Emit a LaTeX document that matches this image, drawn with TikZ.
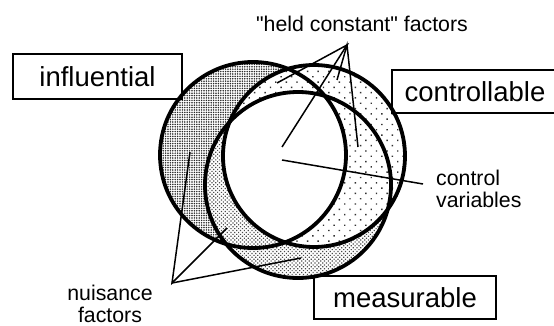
\documentclass[tikz,border=0pt]{standalone}
\usepackage{fontspec}
\setmainfont{Liberation Sans}[Ligatures=TeXOff]
\usetikzlibrary{patterns.meta, positioning}

\begin{document}
\begin{tikzpicture}[
    x=1pt, y=-1pt,
    ring/.style={draw=black, line width=3.8pt},
    tag/.style={rectangle, draw=black, line width=1.4pt, inner sep=0pt,
                font=\fontsize{27.5}{30}\selectfont},
    note/.style={inner sep=0pt, font=\fontsize{21.3}{22}\selectfont},
    lead/.style={draw=black, line width=1.5pt},
    dense/.style={pattern={Dots[radius=0.85pt, distance=2.4pt]}, pattern color=black!85},
    medium/.style={pattern={Dots[radius=0.85pt, distance=2.7pt, angle=45]}, pattern color=black!70},
    sparse/.style={pattern={Dots[radius=1pt, distance=7.5pt, angle=45]}, pattern color=black!80}
]
\useasboundingbox (0,0) rectangle (554,326);

% circle centres
\coordinate (infl) at (253,155);
\coordinate (ctrl) at (314,156);
\coordinate (meas) at (298,185);

% shaded regions
\fill[dense] (infl) circle[radius=93pt];
\fill[white] (meas) circle[radius=93pt];
\fill[medium] (meas) circle[radius=93pt];
\fill[white] (ctrl) circle[radius=91pt];
\fill[sparse] (ctrl) circle[radius=91pt];
\begin{scope}
  \clip (infl) circle[radius=93pt];
  \clip (meas) circle[radius=93pt];
  \fill[white] (ctrl) circle[radius=91pt];
\end{scope}

\draw[ring] (infl) circle[radius=93pt];
\draw[ring] (ctrl) circle[radius=91pt];
\draw[ring] (meas) circle[radius=93pt];

% boxes
\node[tag, minimum width=169pt, minimum height=45pt] (inflTag) at (97.5,76.5) {influential};
\node[tag, minimum width=166pt, minimum height=43pt] (ctrlTag) at (475,91.5) {controllable};
\node[tag, minimum width=182pt, minimum height=43pt] (measTag) at (405,297.5) {measurable};

% labels
\node[note] (hcText) at (362,23.5) {"held constant" factors};
\node[note, align=left, anchor=west] (cvText) at (436,189) {control\\variables};
\node[note, align=center] (nuText) at (110,304) {nuisance\\factors};

% leader lines
\coordinate (hcApex) at (347,45);
\coordinate (hcA) at (277,83);
\coordinate (hcB) at (282,147);
\coordinate (hcC) at (337,80);
\coordinate (hcD) at (358,147);
\draw[lead] (hcA) -- (hcApex) -- (hcB);
\draw[lead] (hcC) -- (hcApex) -- (hcD);

\coordinate (cvStart) at (282,160);
\coordinate (cvTip) at (423,184);
\draw[lead] (cvStart) -- (cvTip);

\coordinate (nuApex) at (172,283);
\coordinate (nuA) at (190,152);
\coordinate (nuB) at (227,228);
\coordinate (nuC) at (301,258);
\draw[lead] (nuA) -- (nuApex) -- (nuB);
\draw[lead] (nuApex) -- (nuC);
\end{tikzpicture}
\end{document}
